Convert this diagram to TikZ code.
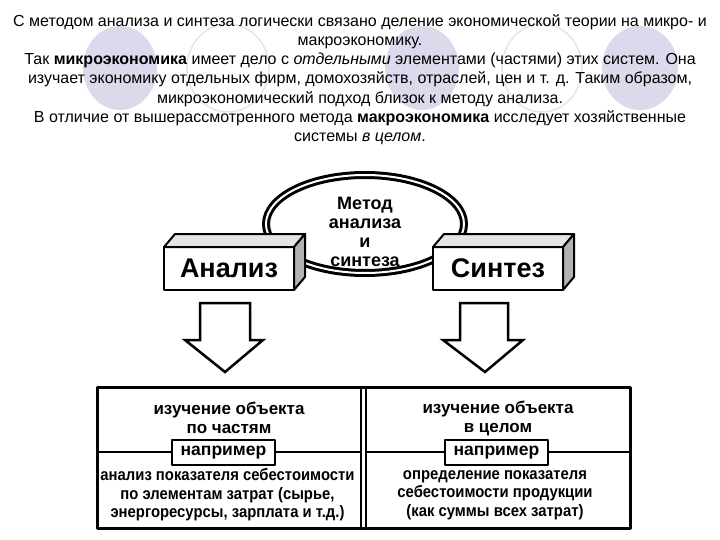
\documentclass[tikz,border=0pt]{standalone}
\usepackage{fontspec}
\setmainfont{Liberation Sans}
\newfontfamily\condfont[FakeStretch=0.9]{Liberation Sans}
\usetikzlibrary{shapes.geometric,positioning,calc}
\definecolor{lavender}{RGB}{218,218,236}
\tikzset{
  block/.style={draw,line width=2.5pt,fill=white,minimum width=130pt,minimum height=43pt,inner sep=0pt,outer sep=0pt,font=\bfseries\fontsize{27}{30}\selectfont},
  example/.style={draw,line width=2.5pt,fill=white,minimum width=103pt,minimum height=25pt,inner sep=0pt,font=\bfseries\fontsize{17.5}{19}\selectfont},
  celltext/.style={align=center,font=\bfseries\fontsize{17}{19}\selectfont},
  notetext/.style={align=center,font=\bfseries\condfont\fontsize{16.5}{18.5}\selectfont},
  blockarrow/.style={draw,line width=2.5pt,fill=white,line join=miter}
}
\begin{document}
\begin{tikzpicture}[x=1pt,y=-1pt,line join=round]
\useasboundingbox (0,0) rectangle (720,540);
% decor behind the text
\fill[lavender] (120,68) ellipse (37 and 42);
\fill[lavender] (422,68) ellipse (37 and 42);
\fill[lavender] (640,68) ellipse (38 and 42);
\draw[gray!20,line width=1.5pt] (228,68) ellipse (41 and 44);
\draw[gray!20,line width=1.5pt] (542,68) ellipse (40 and 44);
\node[align=center,font=\fontsize{16}{19.2}\selectfont] (intro) at (360,79.5)
  {С методом анализа и синтеза логически связано деление экономической теории на микро- и\\
   макроэкономику.\\
   Так \textbf{микроэкономика} имеет дело с \textit{отдельными} элементами (частями) этих систем. Она\\
   изучает экономику отдельных фирм, домохозяйств, отраслей, цен и т. д. Таким образом,\\
   микроэкономический подход близок к методу анализа.\\
   В отличие от вышерассмотренного метода \textbf{макроэкономика} исследует хозяйственные\\
   системы \textit{в целом}.};
% method ring
\node[ellipse,draw,line width=3pt,double=white,double distance=2pt,fill=white,minimum width=198pt,minimum height=98pt] (metod) at (365,224) {};
\node[align=center,font=\bfseries\fontsize{18}{19}\selectfont] (metodtext) at (365,231.5) {Метод\\анализа\\и\\синтеза};
% 3d blocks
\node[block] (anal) at (229,268.5) {Анализ};
\node[block] (synt) at (498,268.5) {Синтез};
\foreach \b in {anal,synt} {
  \filldraw[fill=gray!20,line width=2pt] (\b.north west) -- ++(11,-13) -- ($(\b.north east)+(11,-13)$) -- (\b.north east) -- cycle;
  \filldraw[fill=gray!60,line width=2pt] (\b.north east) -- ++(11,-13) -- ($(\b.south east)+(11,-13)$) -- (\b.south east) -- cycle;
}
% arrows
\draw[blockarrow] (200,303) -- (250,303) -- (250,340) -- (263,340) -- (225,372) -- (185,340) -- (200,340) -- cycle;
\draw[blockarrow] (460,303) -- (508,303) -- (508,340) -- (523,340) -- (485,372) -- (443,340) -- (460,340) -- cycle;
% table
\draw[line width=3pt] (97,387) rectangle (630,528);
\draw[line width=1.5pt] (361,387) -- (361,528) (366,387) -- (366,528);
\draw[line width=2pt] (97,452) -- (361,452) (366,452) -- (630,452);
\node[celltext] (partsl) at (229,418) {изучение объекта\\по частям};
\node[celltext] (wholer) at (498,418) {изучение объекта\\в целом};
\node[example] (exl) at (223.5,452.5) {например};
\node[example] (exr) at (496.5,452.5) {например};
\node[notetext] (notel) at (227.5,495) {анализ показателя себестоимости\\по элементам затрат (сырье,\\энергоресурсы, зарплата и т.д.)};
\node[notetext] (noter) at (495,495) {определение показателя\\себестоимости продукции\\(как суммы всех затрат)};
\end{tikzpicture}
\end{document}
